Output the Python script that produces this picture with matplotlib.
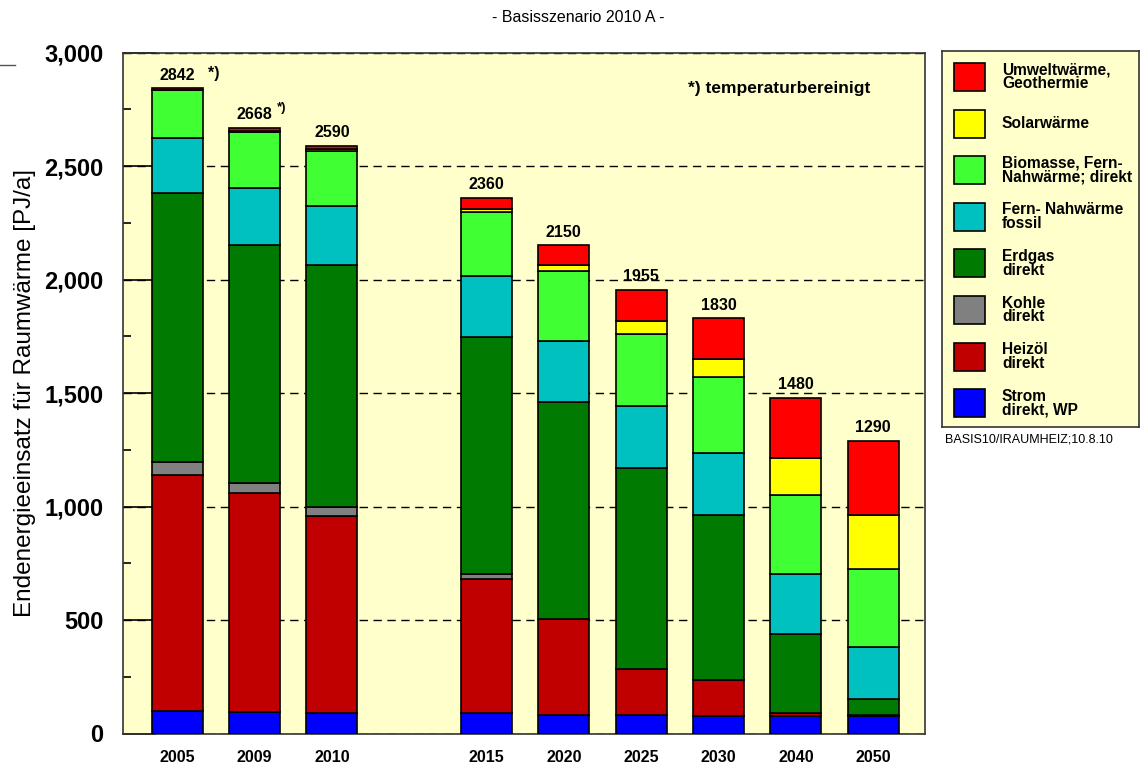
import matplotlib.pyplot as plt
import matplotlib.ticker as mtick
import numpy as np
from matplotlib.patches import Rectangle

plt.rcParams.update({"font.family": ["Liberation Sans", "DejaVu Sans"]})

# ------------------------------------------------------------------ data
years = ["2005", "2009", "2010", "2015", "2020", "2025", "2030", "2040", "2050"]
xpos = [0, 1, 2, 4, 5, 6, 7, 8, 9]
totals = [2842, 2668, 2590, 2360, 2150, 1955, 1830, 1480, 1290]
total_marks = ["  *)", "*)", "", "", "", "", "", "", ""]

# bottom -> top stacking order
strom = [99, 95, 89, 89, 83, 81, 77, 78, 77]
heizoel = [1040, 964, 868, 593, 423, 203, 160, 11, 3]
kohle = [56, 46, 42, 21, 0, 0, 0, 0, 0]
erdgas = [1185, 1048, 1065, 1042, 953, 884, 724, 349, 72]
fern_fossil = [245, 249, 260, 270, 270, 276, 276, 265, 228]
biomasse = [209, 247, 243, 281, 307, 317, 333, 348, 345]
solar = [0, 5, 6, 16, 27, 58, 80, 164, 236]
umwelt = [8, 14, 17, 48, 87, 136, 180, 265, 329]

series = [strom, heizoel, kohle, erdgas, fern_fossil, biomasse, solar, umwelt]
labels = ["Strom\ndirekt, WP", "Heizöl\ndirekt", "Kohle\ndirekt",
          "Erdgas\ndirekt", "Fern- Nahwärme\nfossil",
          "Biomasse, Fern-\nNahwärme; direkt", "Solarwärme",
          "Umweltwärme,\nGeothermie"]
colors = ["#0000FF", "#C00000", "#808080", "#007A00", "#00C0C0",
          "#40FF33", "#FFFF00", "#FF0000"]

BG = "#FFFFCC"

fig = plt.figure(figsize=(11.4, 7.67), dpi=100)
ax = fig.add_axes([123 / 1140, 1 - 733.5 / 767, (925 - 123) / 1140,
                   (733.5 - 52.5) / 767])
ax.set_facecolor(BG)

bottom = np.zeros(len(years))
for vals, col in zip(series, colors):
    v = np.array(vals, dtype=float)
    ax.bar(xpos, v, bottom=bottom, width=0.66, color=col,
           edgecolor="black", linewidth=1.2, zorder=3)
    bottom += v

for x, t, m in zip(xpos, totals, total_marks):
    ax.annotate(f"{t}", (x, t), xytext=(0, 4), textcoords="offset points",
                ha="center", va="bottom", fontsize=11.5, fontweight="bold",
                zorder=4)
    if m:
        ax.annotate(m, (x, t), xytext=(16, 10 if m == "*)" else 5),
                    textcoords="offset points", ha="left", va="bottom",
                    fontsize=11.5 if m != "*)" else 9.5, fontweight="bold")

ax.text(0.704, 0.947, "*) temperaturbereinigt", transform=ax.transAxes,
        fontsize=12.5, fontweight="bold", ha="left", va="center")

ax.set_xlim(-0.70, 9.67)
ax.set_ylim(0, 3000)
ax.set_xticks(xpos)
ax.set_xticklabels(years, fontsize=11.5, fontweight="bold")
ax.tick_params(axis="x", length=0, pad=12)
ax.yaxis.set_major_locator(mtick.MultipleLocator(500))
ax.yaxis.set_minor_locator(mtick.MultipleLocator(250))
ax.yaxis.set_major_formatter(mtick.FuncFormatter(lambda v, _: f"{int(v):,}"))
ax.tick_params(axis="y", which="major", direction="in", length=24,
               width=1.2, labelsize=17, pad=14)
ax.tick_params(axis="y", which="minor", direction="in", length=6, width=1.2)
for lab in ax.get_yticklabels():
    lab.set_fontweight("bold")
ax.grid(True, axis="y", which="major", color="black", linestyle=(0, (6, 4)),
        linewidth=1.0, zorder=1)
for s in ax.spines.values():
    s.set_color("#333333")
    s.set_linewidth(1.2)
ax.set_ylabel("Endenergieeinsatz für Raumwärme [PJ/a]", fontsize=17.5,
              labelpad=6)

fig.text(578 / 1140, 1 - 17 / 767, "- Basisszenario 2010 A -",
         ha="center", va="center", fontsize=11.5)
fig.lines.append(plt.Line2D([0, 15 / 1140], [1 - 65 / 767, 1 - 65 / 767],
                            transform=fig.transFigure, color="#555555",
                            lw=1))

# ------------------------------------------------------------------ legend
lax = fig.add_axes([942 / 1140, 1 - 427 / 767, (1139 - 942) / 1140,
                    (427 - 51) / 767])
lax.set_facecolor(BG)
lax.set_xlim(0, 197)
lax.set_ylim(376, 0)
lax.set_xticks([])
lax.set_yticks([])
for s in lax.spines.values():
    s.set_color("#333333")
    s.set_linewidth(1.2)
for i, (lab, col) in enumerate(zip(labels[::-1], colors[::-1])):
    yc = 26 + i * 46.6
    lax.add_patch(Rectangle((12, yc - 14), 31, 28, facecolor=col,
                            edgecolor="black", linewidth=1.2))
    lax.text(60, yc, lab, ha="left", va="center", fontsize=11.2,
             fontweight="bold", linespacing=0.9)

fig.text(945 / 1140, 1 - 440 / 767, "BASIS10/IRAUMHEIZ;10.8.10",
         ha="left", va="center", fontsize=9)

fig.savefig("out.png", dpi=100, facecolor="white")
